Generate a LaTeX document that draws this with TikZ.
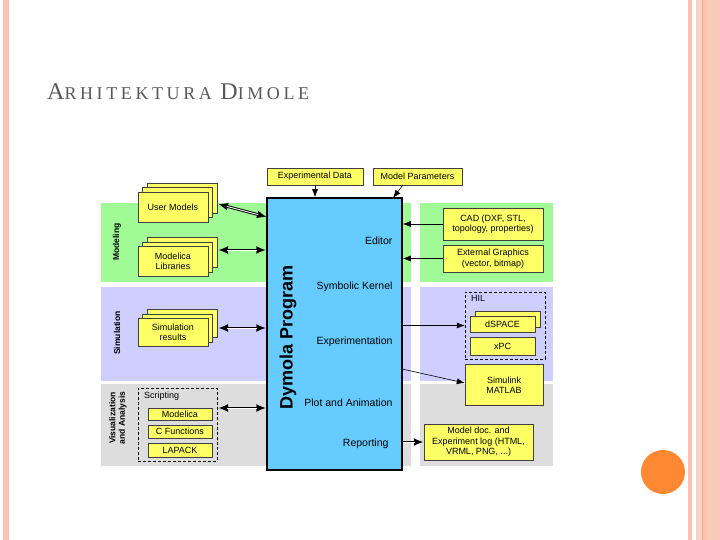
\documentclass[tikz,border=0pt]{standalone}
\usepackage{fontspec}
\setmainfont{Liberation Sans}
\newfontfamily\titlefont[LetterSpace=20]{Liberation Serif}
\definecolor{slidesalmon}{RGB}{250,196,176}
\definecolor{stripedark}{RGB}{238,168,138}
\definecolor{dotorange}{RGB}{255,136,51}
\definecolor{bandgreen}{RGB}{160,250,150}
\definecolor{bandlav}{RGB}{206,206,255}
\definecolor{bandgray}{RGB}{221,221,221}
\definecolor{dymblue}{RGB}{102,204,255}
\definecolor{boxyellow}{RGB}{255,255,102}
\definecolor{titlegray}{RGB}{88,88,96}
\usetikzlibrary{arrows.meta, positioning, shadows}

\begin{document}
\begin{tikzpicture}[x=1pt, y=-1pt, font=\fontsize{9}{10.5}\selectfont,
  box/.style={draw=black!75, fill=boxyellow, thin, align=center, inner sep=0pt},
  stackbox/.style={box, double copy shadow={shadow xshift=4.5pt, shadow yshift=4.5pt, draw=black!75, fill=boxyellow}},
  pairbox/.style={box, copy shadow={shadow xshift=5pt, shadow yshift=5pt, draw=black!75, fill=boxyellow}},
  groupbox/.style={draw, densely dashed, thin, inner sep=0pt},
  bandlabel/.style={rotate=90, font=\fontsize{8.5}{9.5}\selectfont\bfseries, align=center},
  partlabel/.style={anchor=east, font=\fontsize{10.5}{12}\selectfont},
  link/.style={-{Latex[length=8pt,width=6pt]}, semithick},
  dlink/.style={{Latex[length=10pt,width=8pt]}-{Latex[length=10pt,width=8pt]}, line width=2.8pt,
    postaction={draw, -, white, line width=0.9pt, shorten <=9pt, shorten >=9pt}},
  slink/.style={-{Latex[length=10pt,width=8pt]}, line width=2.8pt,
    postaction={draw, -, white, line width=0.9pt, shorten >=9pt}}]
\useasboundingbox (0,0) rectangle (720,540);
\fill[slidesalmon] (3,0) rectangle (9,540);
\fill[slidesalmon] (688,0) rectangle (692,540);
\fill[slidesalmon!75] (696,0) rectangle (702,540);
\fill[stripedark] (702,0) rectangle (703,540);
\fill[slidesalmon] (703,0) rectangle (707,540);
\fill[slidesalmon!90] (707,0) rectangle (720,540);
\fill[dotorange] (663,472) circle (22);
\node[anchor=base west, text=titlegray, font=\titlefont, inner sep=0pt] (title) at (47,100)
  {{\fontsize{24}{24}\selectfont A}{\fontsize{18}{18}\selectfont RHITEKTURA}\hspace{4pt} {\fontsize{24}{24}\selectfont D}{\fontsize{18}{18}\selectfont IMOLE}};

\fill[bandgreen] (101,203) rectangle (411,282);
\fill[bandlav] (101,287) rectangle (411,381);
\fill[bandgray] (101,384) rectangle (411,466);
\fill[bandgreen] (420,203) rectangle (553,282);
\fill[bandlav] (420,287) rectangle (553,381);
\fill[bandgray] (420,384) rectangle (553,466);

\node[bandlabel] (modeling) at (117,242) {Modeling};
\node[bandlabel] (simulation) at (117,333) {Simulation};
\node[bandlabel] (visual) at (118,418) {Visualization\\and Analysis};

\node[draw, line width=1.5pt, fill=dymblue, minimum width=135, minimum height=272, inner sep=0pt] (dymola) at (334.5,334) {};
\node[rotate=90, font=\fontsize{18}{20}\selectfont\bfseries] (dymname) at (288,337) {Dymola Program};
\node[partlabel] (editor) at (396,241) {Editor};
\node[partlabel] (kernel) at (396,287) {Symbolic Kernel};
\node[partlabel] (experiment) at (396,342) {Experimentation};
\node[partlabel] (plot) at (396,403) {Plot and Animation};
\node[partlabel] (reporting) at (392,444) {Reporting};

\node[box, minimum width=96, minimum height=17] (expdata) at (315,176.5) {Experimental Data};
\node[box, minimum width=89, minimum height=17] (params) at (417.5,176.5) {Model Parameters};

\node[stackbox, minimum width=70, minimum height=30] (usermodels) at (173,207) {User Models};
\node[stackbox, minimum width=70, minimum height=30] (modlib) at (173,261.5) {Modelica\\Libraries};
\node[stackbox, minimum width=70, minimum height=28] (simres) at (173,332.5) {Simulation\\results};

\node[groupbox, minimum width=79, minimum height=73] (scripting) at (177.5,424.5) {};
\node[anchor=north west, inner sep=1pt] (scriptlabel) at ([xshift=5pt,yshift=-3pt]scripting.north west) {Scripting};
\node[box, minimum width=64, minimum height=12] (smodelica) at (180,414.5) {Modelica};
\node[box, minimum width=64, minimum height=13] (cfunc) at (180,431.5) {C Functions};
\node[box, minimum width=64, minimum height=14] (lapack) at (180,450) {LAPACK};

\node[box, minimum width=100, minimum height=32] (cad) at (493,224) {CAD (DXF, STL,\\topology, properties)};
\node[box, minimum width=100, minimum height=27] (extgraph) at (493,258.5) {External Graphics\\(vector, bitmap)};

\node[groupbox, minimum width=80, minimum height=67] (hil) at (505,325.5) {};
\node[anchor=north west, inner sep=1pt] (hillabel) at ([xshift=5pt,yshift=-2pt]hil.north west) {HIL};
\node[pairbox, minimum width=65, minimum height=16] (dspace) at (502.5,324) {dSPACE};
\node[box, minimum width=65, minimum height=18] (xpc) at (502.5,346) {xPC};

\node[box, minimum width=78, minimum height=41] (simulink) at (504,385) {Simulink\\MATLAB};
\node[box, minimum width=109, minimum height=36] (modeldoc) at (478.5,442) {Model doc. and\\Experiment log (HTML,\\VRML, PNG, ...)};

\coordinate (um-out) at (218,204);
\coordinate (um-in) at (267,217);
\coordinate (ml-out) at (218,250);
\coordinate (sr-out) at (218,328);
\coordinate (sc-out) at (218,408);
\coordinate (par-out) at (403,185);
\coordinate (par-in) at (393,198);
\coordinate (sl-out) at (402,369);

\draw[dlink] (um-out) -- (um-in);
\draw[dlink] (ml-out) -- (ml-out -| dymola.west);
\draw[dlink] (sr-out) -- (sr-out -| dymola.west);
\draw[dlink] (sc-out) -- (sc-out -| dymola.west);
\draw[link] (expdata.south) -- (expdata.south |- dymola.north);
\draw[link] (par-out) -- (par-in);
\draw[link] (cad.west) -- (cad.west -| dymola.east);
\draw[link] (extgraph.west) -- (extgraph.west -| dymola.east);
\draw[link] (hil.west -| dymola.east) -- (hil.west);
\draw[link] (sl-out) -- ([yshift=2pt]simulink.west);
\draw[slink] (modeldoc.west -| dymola.east) -- (modeldoc.west);
\end{tikzpicture}
\end{document}
